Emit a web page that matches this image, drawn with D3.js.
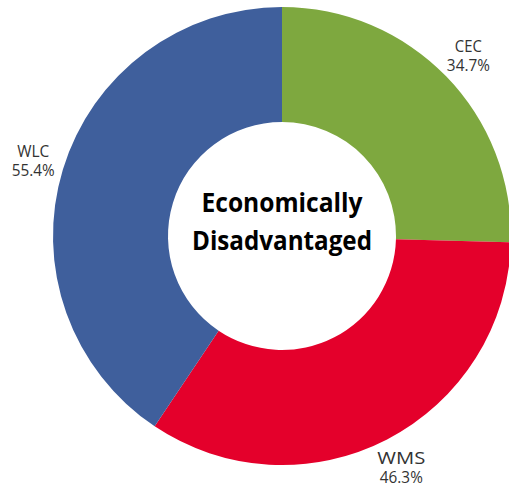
<!DOCTYPE html>
<html>
<head>
<meta charset="utf-8">
<script src="https://cdn.jsdelivr.net/npm/d3@7"></script>
<style>
  html, body { margin: 0; padding: 0; background: #fff; }
  svg { display: block; }
</style>
</head>
<body>
<svg id="chart" width="509" height="487"></svg>
<script>
// Data
const categories = ["CEC", "WMS", "WLC"];
const values = [34.7, 46.3, 55.4];
const valueLabels = ["34.7%", "46.3%", "55.4%"];
const colors = ["#7EA83F", "#E4002B", "#3F5F9C"];
const titleLines = ["Economically", "Disadvantaged"];

const svg = d3.select("#chart");
const cx = 282, cy = 236;
const outerR = 229, innerR = 114;
const labelR = 260;

const g = svg.append("g").attr("transform", `translate(${cx},${cy})`);

const data = categories.map((c, i) => ({ cat: c, value: values[i], label: valueLabels[i], color: colors[i] }));

const pie = d3.pie().value(d => d.value).sort(null);
const arc = d3.arc().innerRadius(innerR).outerRadius(outerR);
const arcs = pie(data);

g.selectAll("path.slice")
  .data(arcs)
  .join("path")
  .attr("class", "slice")
  .attr("d", arc)
  .attr("fill", d => d.data.color);

// Labels outside
const labelArc = d3.arc().innerRadius(labelR).outerRadius(labelR);
const catWidths = { CEC: 27, WMS: 48, WLC: 32 };
const valWidth = 43;
const labelFont = "'Open Sans', 'Noto Sans', sans-serif";

const lab = g.selectAll("g.lab")
  .data(arcs)
  .join("g")
  .attr("class", "lab")
  .attr("transform", d => { const [x, y] = labelArc.centroid(d); return `translate(${x},${y})`; });

lab.append("text")
  .attr("y", -3)
  .attr("text-anchor", "middle")
  .attr("font-family", labelFont)
  .attr("font-size", 17)
  .attr("fill", "#333")
  .attr("textLength", d => catWidths[d.data.cat])
  .attr("lengthAdjust", "spacingAndGlyphs")
  .text(d => d.data.cat);

lab.append("text")
  .attr("y", 16)
  .attr("text-anchor", "middle")
  .attr("font-family", labelFont)
  .attr("font-size", 17)
  .attr("fill", "#333")
  .attr("textLength", valWidth)
  .attr("lengthAdjust", "spacingAndGlyphs")
  .text(d => d.data.label);

// Center title
const titleWidths = [161, 180];
g.selectAll("text.title")
  .data(titleLines)
  .join("text")
  .attr("class", "title")
  .attr("x", 0)
  .attr("y", (d, i) => -24 + i * 38)
  .attr("text-anchor", "middle")
  .attr("font-family", "'Open Sans', 'Noto Sans', sans-serif")
  .attr("font-weight", "bold")
  .attr("font-size", 27)
  .attr("fill", "#000")
  .attr("textLength", (d, i) => titleWidths[i])
  .attr("lengthAdjust", "spacingAndGlyphs")
  .text(d => d);
</script>
</body>
</html>
